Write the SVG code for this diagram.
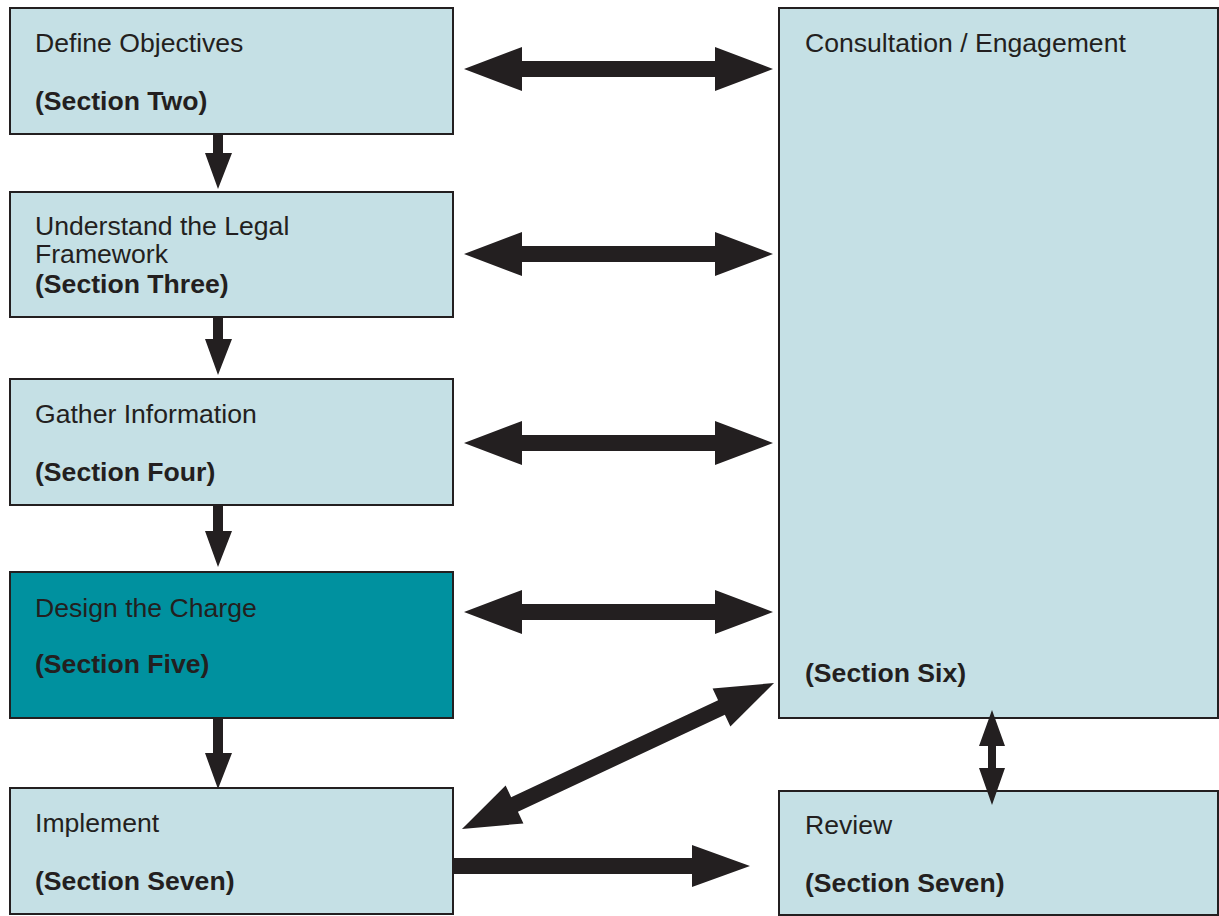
<svg xmlns="http://www.w3.org/2000/svg" width="1219" height="916" viewBox="0 0 1219 916">
<style>
.box{fill:#c5e0e5;stroke:#231f20;stroke-width:2}
.dark{fill:#00919f;stroke:#231f20;stroke-width:2}
.t{font-family:"Liberation Sans",Arial,sans-serif;font-size:26.6px;fill:#231f20}
.b{font-weight:bold}
.arr{fill:#231f20;stroke:none}
</style>
<rect width="1219" height="916" fill="#ffffff"/>
<g id="n1"><rect class="box" x="10" y="8" width="443" height="126"/><text class="t" x="35" y="52">Define Objectives</text><text class="t b" x="35" y="110">(Section Two)</text></g>
<g id="n2"><rect class="box" x="10" y="192" width="443" height="125"/><text class="t" x="35" y="235">Understand the Legal</text><text class="t" x="35" y="263">Framework</text><text class="t b" x="35" y="293">(Section Three)</text></g>
<g id="n3"><rect class="box" x="10" y="379" width="443" height="126"/><text class="t" x="35" y="423">Gather Information</text><text class="t b" x="35" y="481">(Section Four)</text></g>
<g id="n4"><rect class="dark" x="10" y="572" width="443" height="146"/><text class="t" x="35" y="617">Design the Charge</text><text class="t b" x="35" y="673">(Section Five)</text></g>
<g id="n5"><rect class="box" x="10" y="788" width="443" height="126"/><text class="t" x="35" y="832">Implement</text><text class="t b" x="35" y="890">(Section Seven)</text></g>
<g id="n6"><rect class="box" x="779" y="8" width="439" height="710"/><text class="t" x="805" y="52">Consultation / Engagement</text><text class="t b" x="805" y="682">(Section Six)</text></g>
<g id="n7"><rect class="box" x="779" y="791" width="439" height="124"/><text class="t" x="805" y="834">Review</text><text class="t b" x="805" y="892">(Section Seven)</text></g>
<g id="connectors">
<path id="d1" class="arr" d="M213,134 H223 V153 H232 L218,189 L205,153 H213 Z"/>
<path id="d2" class="arr" d="M213,317 H223 V339 H232 L218,375 L205,339 H213 Z"/>
<path id="d3" class="arr" d="M213,505 H223 V531 H232 L218,567 L205,531 H213 Z"/>
<path id="d4" class="arr" d="M213,718 H223 V753 H232 L218,789 L205,753 H213 Z"/>
<path id="h1" class="arr" d="M464,69 L522,47 V61 H715 V47 L773,69 L715,91 V77 H522 V91 Z"/>
<path id="h2" class="arr" d="M464,254 L522,232 V246 H715 V232 L773,254 L715,276 V262 H522 V276 Z"/>
<path id="h3" class="arr" d="M464,443 L522,421 V435 H715 V421 L773,443 L715,465 V451 H522 V465 Z"/>
<path id="h4" class="arr" d="M464,612 L522,590 V604 H715 V590 L773,612 L715,634 V620 H522 V634 Z"/>
<path id="h5" class="arr" d="M453,858 H692 V845 L750,866 L692,887 V874 H453 Z"/>
<path id="v1" class="arr" d="M992,710 L1005,746 H996 V768 H1005 L992,805 L979,768 H988 V746 H979 Z"/>
<g transform="translate(462,829) rotate(-25.08)">
<path id="diag" class="arr" d="M0,0 L58,-21 V-8 H286.5 V-21 L344.5,0 L286.5,21 V8 H58 V21 Z"/>
</g>
</g>
</svg>
